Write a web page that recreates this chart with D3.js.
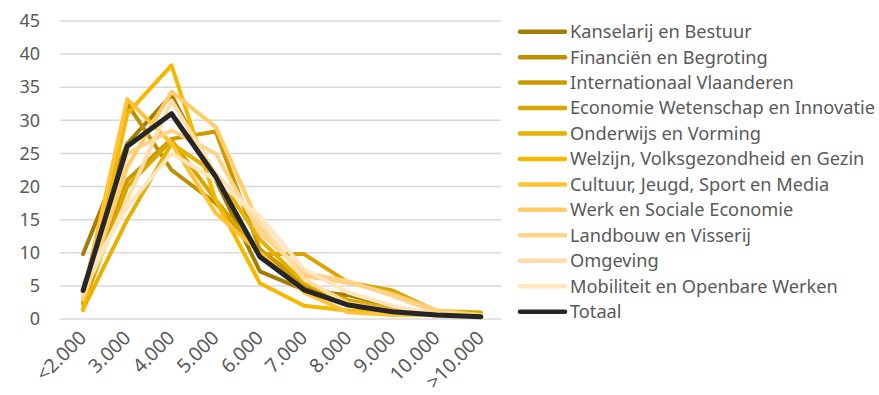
<!DOCTYPE html>
<html>
<head>
<meta charset="utf-8">
<script src="https://cdn.jsdelivr.net/npm/d3@7"></script>
<style>
  html, body { margin: 0; padding: 0; background: #fff; }
  svg { display: block; }
  text { font-family: "Noto Sans", "Open Sans", sans-serif; fill: #595959; }
</style>
</head>
<body>
<svg id="chart" width="879" height="395"></svg>
<script>
// Loonklassen (x-as)
const categories = ["<2.000", "3.000", "4.000", "5.000", "6.000", "7.000", "8.000", "9.000", "10.000", ">10.000"];

// Aandeel per beleidsdomein (%)
const kanselarij     = [9.8, 26.5, 33.8, 21.0, 7.2, 4.4, 3.6, 1.9, 0.6, 0.4];
const financien      = [3.5, 32.5, 22.5, 17.5, 10.0, 5.0, 2.5, 1.5, 0.6, 0.4];
const internationaal = [2.5, 21.0, 27.2, 28.3, 10.5, 5.5, 2.8, 1.6, 0.6, 0.4];
const economie       = [2.2, 20.0, 27.0, 18.0, 9.8, 9.8, 5.5, 4.3, 1.2, 1.0];
const onderwijs      = [1.5, 15.0, 26.5, 22.0, 12.0, 5.5, 2.6, 1.6, 0.6, 0.5];
const welzijn        = [1.3, 31.0, 38.3, 18.0, 5.4, 2.0, 1.3, 1.0, 0.6, 0.5];
const cultuur        = [3.5, 33.2, 26.5, 16.0, 10.0, 4.0, 1.0, 0.6, 0.6, 0.6];
const werk           = [3.0, 23.0, 34.3, 29.0, 14.0, 6.5, 5.5, 3.8, 1.3, 0.6];
const landbouw       = [3.5, 25.0, 28.5, 25.0, 13.0, 7.0, 5.7, 3.5, 1.0, 0.5];
const omgeving       = [3.8, 18.0, 33.0, 22.0, 14.5, 6.0, 2.3, 1.2, 0.5, 0.3];
const mobiliteit     = [5.5, 17.0, 25.0, 21.0, 15.5, 7.5, 4.0, 2.0, 0.6, 0.3];
const totaal         = [4.3, 26.1, 31.0, 21.5, 9.4, 4.4, 2.1, 1.1, 0.6, 0.35];

const seriesNames = [
  "Kanselarij en Bestuur", "Financiën en Begroting", "Internationaal Vlaanderen",
  "Economie Wetenschap en Innovatie", "Onderwijs en Vorming",
  "Welzijn, Volksgezondheid en Gezin", "Cultuur, Jeugd, Sport en Media",
  "Werk en Sociale Economie", "Landbouw en Visserij", "Omgeving",
  "Mobiliteit en Openbare Werken", "Totaal"
];
const seriesValues = [kanselarij, financien, internationaal, economie, onderwijs,
  welzijn, cultuur, werk, landbouw, omgeving, mobiliteit, totaal];
const seriesColors = ["#a67c00", "#bf8f00", "#cc9a00", "#d9a600", "#e8b000", "#f5b800",
  "#ffc335", "#ffcc66", "#ffd48a", "#ffdda6", "#ffe5c0", "#262626"];

const yTicks = [0, 5, 10, 15, 20, 25, 30, 35, 40, 45];

const svg = d3.select("#chart");
const plot = { left: 61, right: 501, top: 21, bottom: 319 };

const x = d3.scalePoint().domain(categories).range([plot.left, plot.right + 2]).padding(0.5);
const y = d3.scaleLinear().domain([0, 45]).range([plot.bottom, plot.top]);

// Rasterlijnen
svg.append("g").selectAll("line").data(yTicks).join("line")
  .attr("x1", plot.left - 1).attr("x2", plot.right)
  .attr("y1", d => y(d)).attr("y2", d => y(d))
  .attr("stroke", "#d9d9d9").attr("stroke-width", 1.5);

// Y-as labels
const yAxis = d3.axisLeft(y).tickValues(yTicks).tickSize(0).tickPadding(0);
const gy = svg.append("g").attr("transform", `translate(${plot.left - 21},0)`).call(yAxis);
gy.select(".domain").remove();
gy.selectAll("text").attr("font-size", 18).attr("fill", "#595959")
  .style("font-family", '"Noto Sans", sans-serif');

// X-as labels (schuin)
const xAxis = d3.axisBottom(x).tickSize(0).tickPadding(0);
const gx = svg.append("g").attr("transform", `translate(0,${plot.bottom})`).call(xAxis);
gx.select(".domain").remove();
gx.selectAll("text")
  .attr("font-size", 19.5).attr("fill", "#595959")
  .style("font-family", '"Noto Sans", sans-serif')
  .attr("text-anchor", "end")
  .attr("dy", 0).attr("y", 0)
  .attr("transform", "translate(4,20) rotate(-45)");

// Lijnen
const line = d3.line().x((d, i) => x(categories[i])).y(d => y(d));
svg.append("g").selectAll("path").data(seriesValues).join("path")
  .attr("d", line)
  .attr("fill", "none")
  .attr("stroke", (d, i) => seriesColors[i])
  .attr("stroke-width", (d, i) => i === 11 ? 5 : 4)
  .attr("stroke-linejoin", "round")
  .attr("stroke-linecap", "round");

// Legende
const legend = svg.append("g");
const items = legend.selectAll("g").data(seriesNames).join("g")
  .attr("transform", (d, i) => `translate(520,${31.7 + i * 25.45})`);
items.append("line")
  .attr("x1", 0).attr("x2", 45).attr("y1", 0).attr("y2", 0)
  .attr("stroke", (d, i) => seriesColors[i])
  .attr("stroke-width", 4.5)
  .attr("stroke-linecap", "round");
items.append("text")
  .attr("x", 50).attr("y", 0).attr("dy", "0.35em")
  .attr("font-size", 18.2)
  .text(d => d);
</script>
</body>
</html>
